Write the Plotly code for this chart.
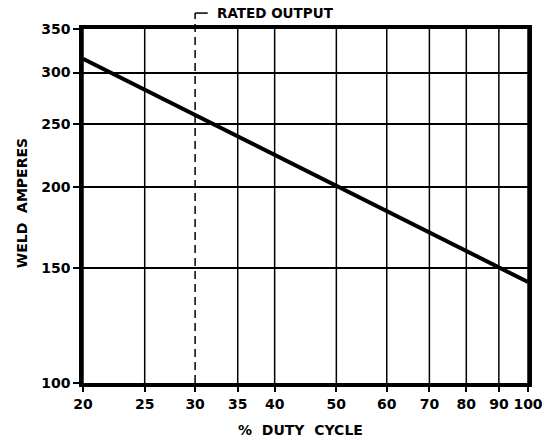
import plotly.graph_objects as go
import math

# Data
duty_cycle = [20, 100]          # % duty cycle
weld_amps = [315, 143]          # weld amperes
rated_duty = 30                 # rated output duty cycle

x_ticks = [20, 25, 30, 35, 40, 50, 60, 70, 80, 90, 100]
x_tick_text = ["20", "25", "30", "35", "40", "50", "60", "70", "80", "90", "100"]
y_ticks = [100, 150, 200, 250, 300, 350]
y_tick_text = ["100", "150", "200", "250", "300", "350"]

FONT = "DejaVu Sans"

fig = go.Figure()
fig.add_trace(go.Scatter(
    x=duty_cycle, y=weld_amps, mode="lines",
    line=dict(color="black", width=4), showlegend=False, hoverinfo="skip"))

fig.update_layout(
    width=555, height=440,
    margin=dict(l=83, r=18, t=29, b=57),
    paper_bgcolor="white", plot_bgcolor="white",
    font=dict(family=FONT, color="black"),
    showlegend=False,
)

fig.update_xaxes(
    type="log", range=[math.log10(20), math.log10(100)],
    tickvals=x_ticks, ticktext=x_tick_text,
    tickfont=dict(family=FONT, size=14, weight="bold", color="black"),
    showgrid=False,
    showline=True, linecolor="black", linewidth=3.5, mirror=True,
    ticks="outside", ticklen=5, tickwidth=1.5, tickcolor="black",
    zeroline=False,
)
fig.update_yaxes(
    type="log", range=[2, math.log10(350)],
    tickvals=y_ticks, ticktext=y_tick_text,
    tickfont=dict(family=FONT, size=14, weight="bold", color="black"),
    showgrid=True, gridcolor="black", gridwidth=1.5,
    showline=True, linecolor="black", linewidth=3.5, mirror=True,
    ticks="outside", ticklen=6, tickwidth=1.5, tickcolor="black",
    zeroline=False,
)

# vertical grid lines (none at rated output position, which is dashed)
for v in x_ticks:
    if v != rated_duty:
        fig.add_shape(type="line", xref="x", yref="paper",
                      x0=v, x1=v, y0=0, y1=1, layer="below",
                      line=dict(color="black", width=1.5))

# Rated output marker
fig.add_shape(type="line", xref="x", yref="paper",
              x0=rated_duty, x1=rated_duty, y0=0, y1=1.045,
              line=dict(color="black", width=1.5, dash="8px,5px"))
fig.add_shape(type="line", xref="x", yref="paper",
              x0=rated_duty, x1=31.4, y0=1.045, y1=1.045,
              line=dict(color="black", width=1.5))
fig.add_annotation(text="RATED OUTPUT", xref="paper", yref="paper",
                   x=0.297, y=1.045, xanchor="left", yanchor="middle",
                   showarrow=False,
                   font=dict(family=FONT, size=13.5, weight="bold", color="black"))

# Axis titles
fig.add_annotation(text="%  DUTY  CYCLE", xref="paper", yref="paper",
                   x=0.488, y=-0.133, xanchor="center", yanchor="middle",
                   showarrow=False,
                   font=dict(family=FONT, size=14, weight="bold", color="black"))
fig.add_annotation(text="WELD  AMPERES", xref="paper", yref="paper",
                   x=-0.137, y=0.508, xanchor="center", yanchor="middle",
                   textangle=-90, showarrow=False,
                   font=dict(family=FONT, size=14, weight="bold", color="black"))

fig.write_html("out.html", config={"displayModeBar": False},
               post_script="document.body.style.margin='0';")
